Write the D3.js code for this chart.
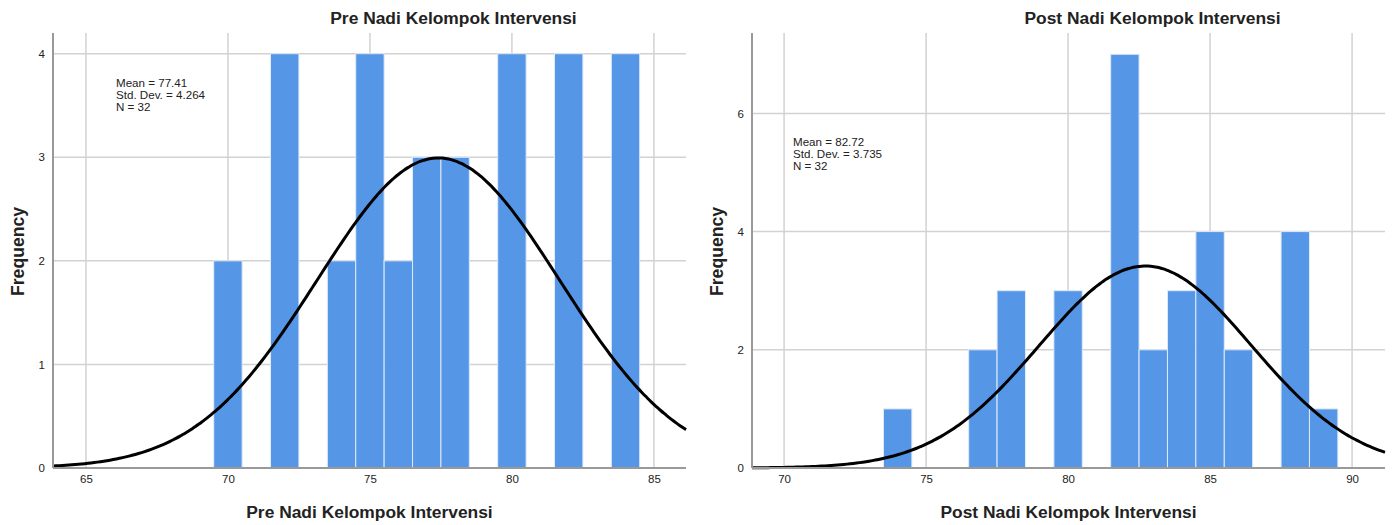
<!DOCTYPE html>
<html>
<head>
<meta charset="utf-8">
<script src="https://cdn.jsdelivr.net/npm/d3@7"></script>
<style>
body{margin:0;background:#fff;}
svg{font-family:"Liberation Sans",Arial,sans-serif;}
</style>
</head>
<body>
<div id="chart"></div>
<script>
// histogram values (bin centre -> count)
var preBins   = [70, 72, 74, 75, 76, 77, 78, 80, 82, 84];
var preCounts = [2, 4, 2, 4, 2, 3, 3, 4, 4, 4];
var postBins   = [74, 77, 78, 80, 82, 83, 84, 85, 86, 88, 89];
var postCounts = [1, 2, 3, 3, 7, 2, 3, 4, 2, 4, 1];

var titles = ["Pre Nadi Kelompok Intervensi", "Post Nadi Kelompok Intervensi"];
var means = [77.41, 82.72];
var sds = [4.264, 3.735];
var ns = [32, 32];
var xTicks = [[65, 70, 75, 80, 85], [70, 75, 80, 85, 90]];
var yTicks = [[0, 1, 2, 3, 4], [0, 2, 4, 6]];
var xDomains = [[63.84, 86.13], [68.87, 91.16]];
var yDomains = [[0, 4.2], [0, 7.36]];

var W = 1394, H = 525;
var svg = d3.select("#chart").append("svg").attr("width", W).attr("height", H);

function drawPanel(k, bins, counts, left, right){
    var top = 33, bottom = 468;
    var g = svg.append("g");

    var x = d3.scaleLinear().domain(xDomains[k]).range([left, right]);
    var y = d3.scaleLinear().domain(yDomains[k]).range([bottom, top]);

    // grid
    g.selectAll(".vg").data(xTicks[k]).enter().append("line")
        .attr("x1", d => x(d)).attr("x2", d => x(d))
        .attr("y1", top).attr("y2", bottom)
        .attr("stroke", "#d2d2d2").attr("stroke-width", 1.5);
    g.selectAll(".hg").data(yTicks[k].slice(1)).enter().append("line")
        .attr("x1", left).attr("x2", right)
        .attr("y1", d => y(d)).attr("y2", d => y(d))
        .attr("stroke", "#d2d2d2").attr("stroke-width", 1.5);

    // bars
    var data = bins.map((b, i) => ({b: b, c: counts[i]}));
    g.selectAll("rect").data(data).enter().append("rect")
        .attr("x", d => x(d.b - 0.5))
        .attr("width", d => x(d.b + 0.5) - x(d.b - 0.5))
        .attr("y", d => y(d.c))
        .attr("height", d => y(0) - y(d.c))
        .attr("fill", "#5596e6")
        .attr("stroke", "#dfeafa").attr("stroke-width", 1);

    // normal curve
    var n = ns[k], m = means[k], s = sds[k];
    var pts = d3.range(0, 201).map(i => {
        var xv = xDomains[k][0] + (xDomains[k][1] - xDomains[k][0]) * i / 200;
        var yv = n / (s * Math.sqrt(2 * Math.PI)) * Math.exp(-0.5 * Math.pow((xv - m) / s, 2));
        return [xv, yv];
    });
    g.append("path").datum(pts)
        .attr("d", d3.line().x(d => x(d[0])).y(d => y(d[1])).curve(d3.curveBasis))
        .attr("fill", "none").attr("stroke", "#000").attr("stroke-width", 3);

    // axes
    var xa = g.append("g").attr("transform", "translate(0," + bottom + ")")
        .call(d3.axisBottom(x).tickValues(xTicks[k]).tickSize(0).tickPadding(7).tickFormat(d3.format("d")));
    var ya = g.append("g").attr("transform", "translate(" + left + ",0)")
        .call(d3.axisLeft(y).tickValues(yTicks[k]).tickSize(0).tickPadding(8).tickFormat(d3.format("d")));
    [xa, ya].forEach(a => {
        a.select(".domain").attr("stroke", "#999").attr("stroke-width", 2);
        a.selectAll("text").attr("font-size", 11.5).attr("fill", "#222")
            .attr("font-family", "Liberation Sans, Arial, sans-serif");
    });
    xa.select(".domain").attr("d", "M" + left + ",0H" + right);
    ya.select(".domain").attr("d", "M0," + top + "V" + bottom);

    // stats box
    var sx = k === 0 ? 116 : 793, sy = k === 0 ? 87 : 146;
    var lines = ["Mean = " + m.toFixed(2), "Std. Dev. = " + s.toFixed(3), "N = " + n];
    g.selectAll(".st").data(lines).enter().append("text")
        .attr("x", sx).attr("y", (d, i) => sy + i * 12)
        .attr("font-size", 11.6).attr("fill", "#222").text(d => d);

    // titles
    g.append("text").attr("x", (left + right) / 2 + 84).attr("y", 24)
        .attr("text-anchor", "middle").attr("font-size", 17.4).attr("font-weight", "bold")
        .attr("fill", "#222").text(titles[k]);
    g.append("text").attr("x", (left + right) / 2).attr("y", 518)
        .attr("text-anchor", "middle").attr("font-size", 17.4).attr("font-weight", "bold")
        .attr("fill", "#222").text(titles[k]);
    g.append("text").attr("transform", "translate(" + (left - 29) + "," + ((top + bottom) / 2 + 1) + ") rotate(-90)")
        .attr("text-anchor", "middle").attr("font-size", 17.6).attr("font-weight", "bold")
        .attr("fill", "#222").text("Frequency");
}

drawPanel(0, preBins, preCounts, 53, 686);
drawPanel(1, postBins, postCounts, 752, 1385);
</script>
</body>
</html>
